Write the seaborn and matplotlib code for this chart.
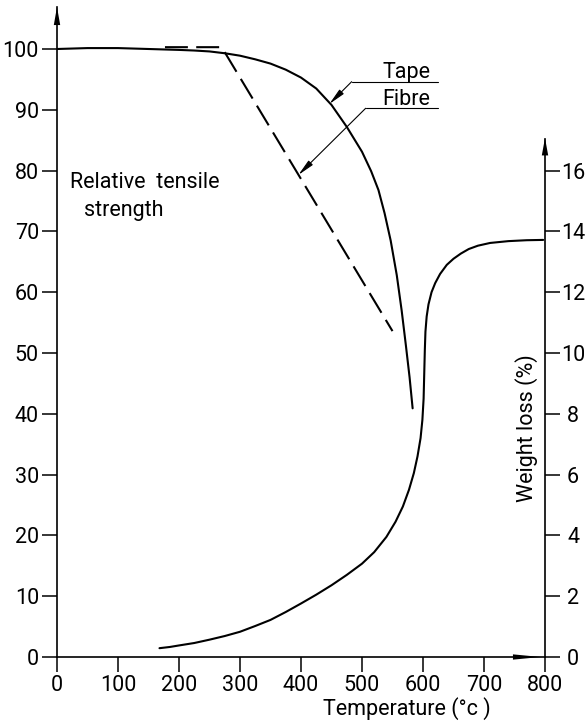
import matplotlib
matplotlib.use("Agg")
import matplotlib.pyplot as plt
import seaborn as sns
from matplotlib import font_manager

# ---------------- data ----------------
tape_temp = [0, 50, 100, 150, 200, 225, 250, 275, 300, 325, 350, 375, 400, 425,
             450, 475, 500, 515, 527, 537, 547, 557, 565, 572, 578, 583]
tape_strength = [100, 100.15, 100.15, 100.0, 99.85, 99.75, 99.6, 99.3, 98.9, 98.3,
                 97.6, 96.6, 95.3, 93.5, 90.8, 87.2, 83.1, 79.9, 76.8, 73.0, 68.5,
                 62.8, 57.0, 51.2, 46.0, 40.9]

fibre_temp = [177, 270, 550]
fibre_strength = [100.3, 100.3, 53.6]

weight_temp = [168, 185, 200, 225, 250, 275, 300, 325, 350, 375, 400, 425, 450,
               475, 500, 520, 540, 555, 567, 577, 585, 591, 596, 599, 601, 602,
               603, 604, 606, 609, 614, 620, 628, 639, 650, 662, 675, 690, 710,
               740, 770, 797]
weight_loss = [0.29, 0.33, 0.38, 0.46, 0.57, 0.69, 0.83, 1.02, 1.22, 1.48, 1.76,
               2.05, 2.36, 2.7, 3.07, 3.45, 3.95, 4.45, 4.95, 5.5, 6.05, 6.6, 7.2,
               7.8, 8.5, 9.3, 10.1, 10.7, 11.2, 11.6, 12.0, 12.3, 12.6, 12.9, 13.1,
               13.27, 13.42, 13.53, 13.62, 13.68, 13.71, 13.72]

x_ticks = [0, 100, 200, 300, 400, 500, 600, 700, 800]
left_ticks = [0, 10, 20, 30, 40, 50, 60, 70, 80, 90, 100]
right_ticks = [0, 2, 4, 6, 8, 10, 12, 14, 16]

# ---------------- style ----------------
sns.set_theme(style="white")
names = {f.name for f in font_manager.fontManager.ttflist}
main_font = "DejaVu Sans"
for cand in ["Liberation Sans Narrow", "Roboto", "Liberation Sans"]:
    if cand in names:
        main_font = cand
        break
plt.rcParams["font.family"] = [main_font, "DejaVu Sans"]
FS = 15.5

W, H = 585, 721
fig = plt.figure(figsize=(W / 100, H / 100), dpi=100)
ax = fig.add_axes([57 / W, 64 / H, 488 / W, 650 / H])
ymax_left = 650 / 6.08
ax.set_xlim(0, 800)
ax.set_ylim(0, ymax_left)
ax.set_facecolor("white")
ax2 = ax.twinx()
ax2.set_ylim(0, ymax_left / 5)

LW = 1.5
sns.lineplot(x=tape_temp, y=tape_strength, ax=ax, color="black", lw=LW,
             sort=False, estimator=None)
sns.lineplot(x=fibre_temp, y=fibre_strength, ax=ax, color="black", lw=LW,
             sort=False, estimator=None, linestyle=(0, (11.0, 4.0)))
sns.lineplot(x=weight_temp, y=weight_loss, ax=ax2, color="black", lw=LW,
             sort=False, estimator=None)

# ---------------- axes ----------------
for s in ["top", "right"]:
    ax.spines[s].set_visible(False)
for s in ["top", "left", "bottom"]:
    ax2.spines[s].set_visible(False)
for sp in [ax.spines["left"], ax.spines["bottom"], ax2.spines["right"]]:
    sp.set_color("black")
    sp.set_linewidth(1.2)
ax2.spines["right"].set_bounds(0, 17.05)

ax.set_xticks(x_ticks)
ax.set_xticklabels([str(v) for v in x_ticks])
ax.set_yticks(left_ticks)
ax.set_yticklabels([str(v) for v in left_ticks])
ax.tick_params(axis="both", direction="out", length=10.8, width=1.1, pad=2.2,
               labelsize=FS, colors="black", left=True, bottom=True)
ax2.set_yticks(right_ticks)
ax2.set_yticklabels([str(v) for v in right_ticks])
ax2.tick_params(axis="y", direction="out", length=10.8, width=1.1, pad=9.4,
                labelsize=FS, colors="black", right=True)
for lbl in ax2.get_yticklabels():
    lbl.set_horizontalalignment("center")
ax.grid(False)
ax2.grid(False)

ax.set_xlabel("Temperature (°c )", fontsize=FS, color="black")
ax.xaxis.set_label_coords((407 - 57) / 488, (657 - 715) / 650)
ax.xaxis.label.set_va("baseline")
ax.xaxis.label.set_ha("center")

ax2.set_ylabel("Weight loss (%)", fontsize=FS, color="black", rotation=90)
ax2.yaxis.set_label_coords((527 - 57) / 488, (657 - 428) / 650)
ax2.yaxis.label.set_va("center")
ax2.yaxis.label.set_ha("center")

# axis arrowheads
head = dict(color="black", lw=0, shrinkA=0, shrinkB=0, mutation_scale=1)
ax.annotate("", xy=(0, 1), xycoords="axes fraction",
            xytext=(0, 1 - 18 / 650), textcoords="axes fraction",
            arrowprops=dict(arrowstyle="-|>,head_length=13,head_width=2.3", **head))
ax2.annotate("", xy=(1, 17.07), xycoords=("axes fraction", "data"),
             xytext=(1, 17.07 - 17 / 30.4), textcoords=("axes fraction", "data"),
             arrowprops=dict(arrowstyle="-|>,head_length=12.5,head_width=2.3", **head))
ax.annotate("", xy=(793, 0), xycoords="data", xytext=(747, 0), textcoords="data",
            arrowprops=dict(arrowstyle="-|>,head_length=20,head_width=1.9", **head))

# text labels
ax.text(21.3, 77.1, "Relative  tensile", fontsize=FS, ha="left", va="baseline",
        color="black")
ax.text(44.3, 72.6, "strength", fontsize=FS, ha="left", va="baseline", color="black")

# leaders
thin = 0.8
ax.plot([483, 624.6], [94.62, 94.62], color="black", lw=thin)
ax.plot([506, 624.6], [90.25, 90.25], color="black", lw=thin)
ax.annotate("", xy=(446.4, 90.95), xytext=(483, 94.62),
            arrowprops=dict(arrowstyle="-|>,head_length=10,head_width=1.8",
                            color="black", lw=thin, shrinkA=0, shrinkB=0,
                            mutation_scale=1))
ax.annotate("", xy=(395.6, 79.28), xytext=(506, 90.25),
            arrowprops=dict(arrowstyle="-|>,head_length=10,head_width=1.8",
                            color="black", lw=thin, shrinkA=0, shrinkB=0,
                            mutation_scale=1))
ax.text(532.8, 95.2, "Tape", fontsize=FS, ha="left", va="baseline", color="black")
ax.text(532.8, 90.79, "Fibre", fontsize=FS, ha="left", va="baseline", color="black")

fig.savefig("out.png", dpi=100, facecolor="white")
